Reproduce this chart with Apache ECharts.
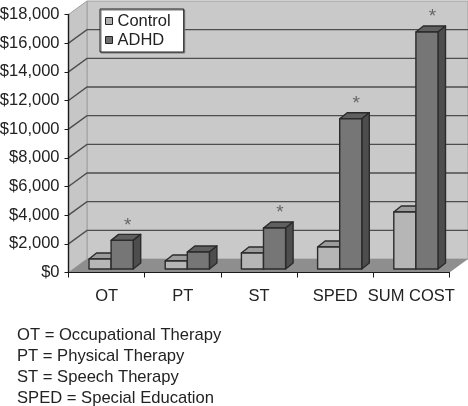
<!DOCTYPE html>
<html>
<head>
<meta charset="utf-8">
<style>html,body{margin:0;padding:0;background:#fff}#c{width:468px;height:406px}</style>
<script src="https://cdn.jsdelivr.net/npm/echarts@6/dist/echarts.min.js"></script>
</head>
<body>
<div id="c"></div>
<script>
const categories = ['OT', 'PT', 'ST', 'SPED', 'SUM COST'];
const control = [700, 560, 1120, 1535, 3980];
const adhd = [2000, 1190, 2860, 10480, 16540];
const significant = [1, 0, 1, 1, 1];
const yTicks = [2000, 4000, 6000, 8000, 10000, 12000, 14000, 16000];
const notes = ['OT = Occupational Therapy', 'PT = Physical Therapy', 'ST = Speech Therapy', 'SPED = Special Education'];

const FONT = '"Liberation Sans", Arial, sans-serif';
const WALL = [18.5, -13.5];
const FRONT = [4.5, -3.5];
const DEPTH = [7.5, -6];

function wallItem(params, api) {
  const c = params.coordSys;
  const x0 = c.x, x1 = c.x + c.width, y0 = c.y, y1 = c.y + c.height;
  const dx = WALL[0], dy = WALL[1];
  return {
    type: 'group',
    children: [
      { type: 'polygon', shape: { points: [[x0 + dx, y0 + dy], [x1 + dx, y0 + dy], [x1 + dx, y1 + dy], [x0 + dx, y1 + dy]] },
        style: { fill: '#c9c9c9', stroke: '#a0a0a0', lineWidth: 1 } },
      { type: 'polygon', shape: { points: [[x0, y0], [x0 + dx, y0 + dy], [x0 + dx, y1 + dy], [x0, y1]] },
        style: { fill: '#c6c6c6', stroke: '#a0a0a0', lineWidth: 1 } },
      { type: 'polygon', shape: { points: [[x0, y1], [x1, y1], [x1 + dx, y1 + dy], [x0 + dx, y1 + dy]] },
        style: { fill: '#8e8e8e' } }
    ]
  };
}

function gridItem(params, api) {
  const c = params.coordSys;
  const y = api.coord([0, api.value(0)])[1];
  return {
    type: 'polyline',
    shape: { points: [[c.x, y], [c.x + WALL[0], y + WALL[1]], [c.x + c.width + WALL[0], y + WALL[1]]] },
    style: { fill: null, stroke: '#4d4d4d', lineWidth: 1.4 }
  };
}

function barMaker(side, front, top, right) {
  return function (params, api) {
    const i = api.value(0);
    const v = api.value(1);
    const base = api.coord([i, 0]);
    const head = api.coord([i, v]);
    const w = api.size([1, 0])[0] * 0.29;
    const l = base[0] + FRONT[0] + (side < 0 ? -w : 0);
    const r = l + w;
    const yb = base[1] + FRONT[1];
    const yt = head[1] + FRONT[1];
    const dx = DEPTH[0], dy = DEPTH[1];
    const line = { stroke: '#2b2b2b', lineWidth: 1.4, lineJoin: 'round' };
    const kids = [
      { type: 'polygon', shape: { points: [[l, yt], [r, yt], [r + dx, yt + dy], [l + dx, yt + dy]] },
        style: Object.assign({ fill: top }, line) },
      { type: 'polygon', shape: { points: [[r, yt], [r + dx, yt + dy], [r + dx, yb + dy], [r, yb]] },
        style: Object.assign({ fill: right }, line) },
      { type: 'rect', shape: { x: l, y: yt, width: w, height: yb - yt },
        style: Object.assign({ fill: front }, line) }
    ];
    if (side > 0 && significant[i]) {
      kids.push({ type: 'text', x: l + w / 2 + 5.5, y: yt - 15,
        style: { text: '*', fill: '#666', font: '19px ' + FONT, align: 'center', verticalAlign: 'middle' } });
    }
    return { type: 'group', children: kids };
  };
}

const chart = echarts.init(document.getElementById('c'), null, { renderer: 'canvas' });
chart.setOption({
  animation: false,
  backgroundColor: '#fff',
  textStyle: { fontFamily: FONT },
  grid: { left: 68.5, right: 18.5, top: 14.5, bottom: 133.5, containLabel: false, outerBoundsMode: 'none' },
  legend: {
    left: 100, top: 9, orient: 'vertical', padding: [3, 13, 3, 5], itemGap: 1,
    itemWidth: 7, itemHeight: 7,
    backgroundColor: '#fff', borderColor: '#222', borderWidth: 1,
    shadowColor: '#777', shadowBlur: 0, shadowOffsetX: 1, shadowOffsetY: 1,
    textStyle: { fontFamily: FONT, fontSize: 16.5, lineHeight: 18, color: '#222', padding: [0, 0, 0, 0] },
    data: [
      { name: 'Control', icon: 'rect', itemStyle: { color: '#b0b0b0', borderColor: '#222', borderWidth: 1 } },
      { name: 'ADHD', icon: 'rect', itemStyle: { color: '#707070', borderColor: '#222', borderWidth: 1 } }
    ]
  },
  xAxis: {
    type: 'category', data: categories, boundaryGap: true, z: 6,
    axisLine: { lineStyle: { color: '#1a1a1a', width: 1.2 } },
    axisTick: { show: true, length: 5, lineStyle: { color: '#1a1a1a' } },
    axisLabel: { interval: 0, margin: 15, fontSize: 16.5, color: '#222', fontFamily: FONT },
    splitLine: { show: false }
  },
  yAxis: {
    type: 'value', min: 0, max: 18000, interval: 2000, z: 6,
    axisLine: { show: true, lineStyle: { color: '#1a1a1a', width: 1.4 } },
    axisTick: { show: true, length: 4, lineStyle: { color: '#1a1a1a' } },
    axisLabel: { margin: 9, fontSize: 16.5, color: '#222', fontFamily: FONT,
      formatter: v => '$' + v.toLocaleString('en-US') },
    splitLine: { show: false }
  },
  series: [
    { type: 'custom', name: 'walls', coordinateSystem: 'cartesian2d', clip: false, z: 1, silent: true,
      renderItem: wallItem, data: [[0, 0]], encode: { x: 0, y: 1 } },
    { type: 'custom', name: 'grid', coordinateSystem: 'cartesian2d', clip: false, z: 2, silent: true,
      renderItem: gridItem, data: yTicks.map(v => [v]), encode: { y: 0 } },
    { type: 'custom', name: 'Control', coordinateSystem: 'cartesian2d', clip: false, z: 3,
      itemStyle: { color: '#b0b0b0' },
      renderItem: barMaker(-1, '#b6b6b6', '#9c9c9c', '#6a6a6a'),
      data: control.map((v, i) => [i, v]), encode: { x: 0, y: 1 } },
    { type: 'custom', name: 'ADHD', coordinateSystem: 'cartesian2d', clip: false, z: 4,
      itemStyle: { color: '#707070' },
      renderItem: barMaker(1, '#767676', '#5f5f5f', '#4d4d4d'),
      data: adhd.map((v, i) => [i, v]), encode: { x: 0, y: 1 } }
  ],
  graphic: notes.map((t, i) => ({
    type: 'text', left: 17, top: 327 + i * 21,
    style: { text: t, fill: '#222', font: '16.6px ' + FONT }
  }))
});
</script>
</body>
</html>
